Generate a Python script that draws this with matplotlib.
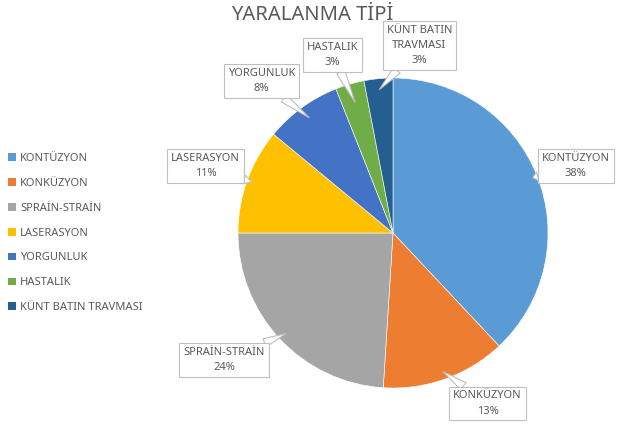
import matplotlib
matplotlib.use("Agg")
import matplotlib.pyplot as plt
from matplotlib.patches import Patch
import numpy as np

plt.rcParams['font.family'] = ['Noto Sans', 'DejaVu Sans']

labels = ['KONTÜZYON', 'KONKÜZYON', 'SPRAİN-STRAİN', 'LASERASYON', 'YORGUNLUK', 'HASTALIK', 'KÜNT BATIN TRAVMASI']
values = [38, 13, 24, 11, 8, 3, 3]
box_labels = ['KONTÜZYON', 'KONKÜZYON', 'SPRAİN-STRAİN', 'LASERASYON', 'YORGUNLUK', 'HASTALIK', 'KÜNT BATIN\nTRAVMASI']
colors = ['#5B9BD5', '#ED7D31', '#A5A5A5', '#FFC000', '#4472C4', '#70AD47', '#255E91']

# callout box centres (data units, radius = 1) and pointer radius
box_pos = [(1.18, 0.43), (0.61, -1.10), (-1.09, -0.82), (-1.21, 0.43),
           (-0.85, 0.98), (-0.39, 1.15), (0.17, 1.21)]
tip_r = [0.97, 0.95, 0.95, 0.97, 0.92, 0.88, 0.93]

fig = plt.figure(figsize=(6.19, 4.25), dpi=100)
ax = fig.add_axes([238/619, 37/425, 310/619, 310/425])
wedges, _ = ax.pie(values, colors=colors, startangle=90, counterclock=False,
                   wedgeprops=dict(edgecolor='white', linewidth=0.4))
ax.set_xlim(-1, 1)
ax.set_ylim(-1, 1)
ax.set_aspect('equal')
ax.axis('off')

gray = '#595959'
for w, lab, v, pos, r in zip(wedges, box_labels, values, box_pos, tip_r):
    ang = np.deg2rad((w.theta1 + w.theta2) / 2)
    tip = (r * np.cos(ang), r * np.sin(ang))
    ax.annotate(f'{lab}\n{v}%', xy=tip, xytext=pos, ha='center', va='center',
                fontsize=8, color=gray, linespacing=1.5, annotation_clip=False,
                bbox=dict(boxstyle='square,pad=0.35', fc='white', ec='#bfbfbf', lw=0.8),
                arrowprops=dict(arrowstyle='wedge,tail_width=0.8', fc='white', ec='#bfbfbf',
                                lw=0.8, shrinkA=0, shrinkB=0))

fig.text(312/619, 1 - 15/425, 'YARALANMA TİPİ', ha='center', va='center', fontsize=14.5, color=gray)

handles = [Patch(facecolor=c, edgecolor='none') for c in colors]
leg = fig.legend(handles, labels, loc='center left', bbox_to_anchor=(0.0, 1 - 233/425),
                 frameon=False, fontsize=8, handlelength=0.7, handleheight=0.7,
                 handletextpad=0.4, labelspacing=1.25, borderaxespad=0.3)
for t in leg.get_texts():
    t.set_color(gray)

fig.savefig('out.png', dpi=100)
